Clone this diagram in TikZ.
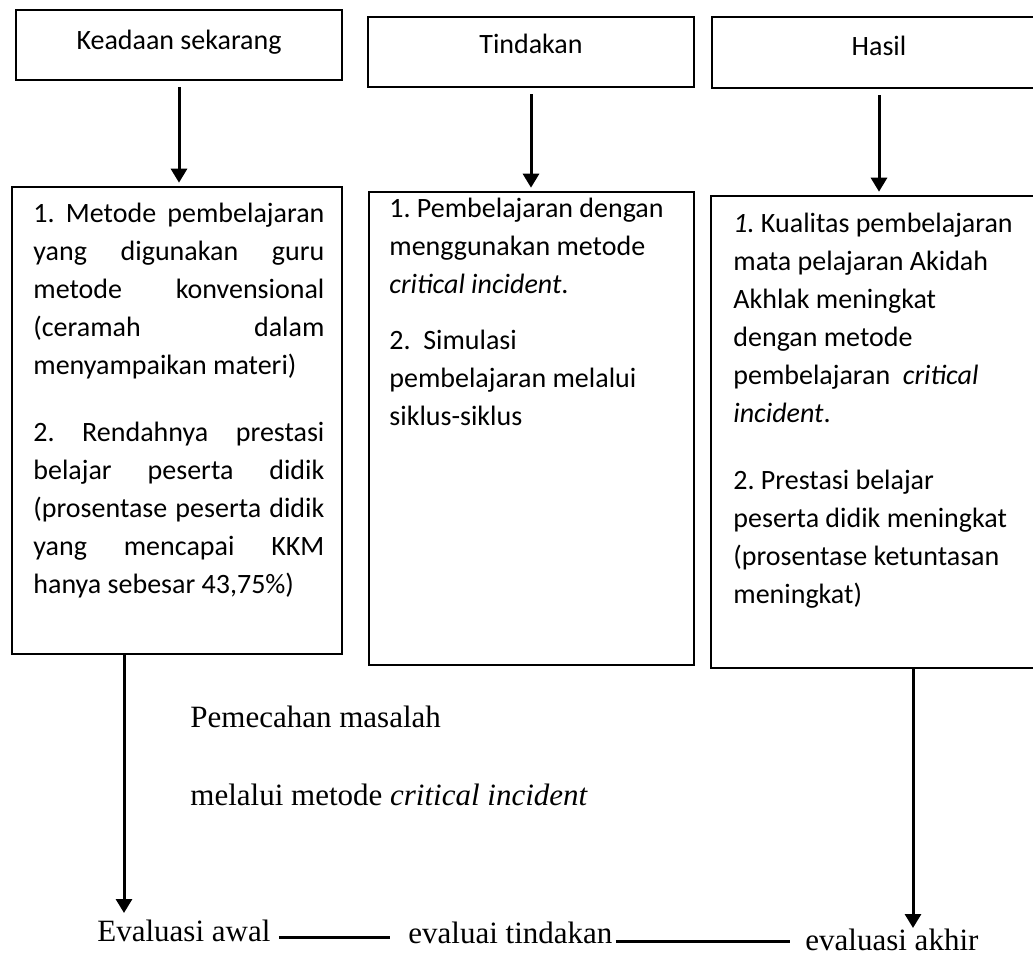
\documentclass[tikz,border=0pt]{standalone}
\usepackage{fontspec}
\setmainfont{Carlito}
\newfontfamily\serifteks{Liberation Serif}
\usetikzlibrary{arrows.meta,fit,calc}
\tolerance=10000
\hbadness=10000
\hyphenpenalty=10000
\frenchspacing

\begin{document}
\begin{tikzpicture}[x=0.5pt,y=-0.5pt,
  kotak/.style={draw, line width=1.3pt, inner sep=0pt},
  judul/.style={anchor=base, inner sep=0pt, font=\fontsize{14}{17}\selectfont},
  isi/.style={anchor=base west, inner sep=0pt, font=\fontsize{14}{19}\selectfont, align=flush left, text width=150pt},
  teks/.style={anchor=base west, inner sep=0pt, font=\serifteks\fontsize{15.5}{18}\selectfont},
  panah/.style={-{Triangle[length=7pt,width=8pt]}, line width=1.5pt},
  garis/.style={line width=1.5pt}]

  % Ukuran gambar (dalam piksel)
  \useasboundingbox (0,0) rectangle (1033,956);

  % Kotak judul
  \node[kotak, fit={(16,10) (342,80)}] (keadaan) {};
  \node[kotak, fit={(368,17) (694,87)}] (tindakan) {};
  \node[kotak, fit={(712,17) (1046,88)}] (hasil) {};
  \node[judul] (keadaanJudul) at ([yshift=-2.5pt]keadaan.center) {Keadaan sekarang};
  \node[judul] (tindakanJudul) at ([yshift=-1pt]tindakan.center) {Tindakan};
  \node[judul] (hasilJudul) at ([yshift=-1.5pt]hasil.center) {Hasil};

  % Kotak isi
  \node[kotak, fit={(12,187) (342,654)}] (keadaanIsi) {};
  \node[kotak, fit={(369,192) (694,665)}] (tindakanIsi) {};
  \node[kotak, fit={(711,196) (1046,668)}] (hasilIsi) {};

  % Teks dalam kotak isi
  \node[isi, align=justify, text width=145.5pt] (keadaanTeks) at (33,223) {%
    1. Metode pembelajaran\linebreak
    yang digunakan guru\linebreak
    metode konvensional\linebreak
    (ceramah dalam\linebreak
    menyampaikan materi)\par\vspace*{14.5pt}
    2. Rendahnya prestasi\linebreak
    belajar peserta didik\linebreak
    (prosentase peserta didik\linebreak
    yang mencapai KKM\linebreak
    hanya sebesar 43,75\%)};
  \node[isi] (tindakanTeks) at (389,218) {%
    1. Pembelajaran dengan\\
    menggunakan metode\\
    \textit{critical incident}.\par\vspace*{9pt}
    2.\ \ Simulasi\\
    pembelajaran melalui\\
    siklus-siklus};
  \node[isi] (hasilTeks) at (733,233) {%
    \textit{1.} Kualitas pembelajaran\\
    mata pelajaran Akidah\\
    Akhlak meningkat\\
    dengan metode\\
    pembelajaran\ \ \textit{critical}\\
    \textit{incident}.\par\vspace*{14.5pt}
    2. Prestasi belajar\\
    peserta didik meningkat\\
    (prosentase ketuntasan\\
    meningkat)};

  % Panah dari kotak judul ke kotak isi
  \foreach \atas/\bawah in {keadaan/keadaanIsi, tindakan/tindakanIsi, hasil/hasilIsi}
    \draw[panah, shorten <=3pt, shorten >=1.5pt] (\atas.south) -- (\atas.south |- \bawah.north);

  % Pemecahan masalah
  \node[teks] (pemecahan) at (190,727) {Pemecahan masalah};
  \node[teks] (melalui) at (190,805) {melalui metode \textit{critical incident}};

  % Evaluasi
  \node[teks] (evalAwal) at (97,941) {Evaluasi awal};
  \node[teks] (evalTindakan) at (408,943) {evaluai tindakan};
  \node[teks] (evalAkhir) at (805,950) {evaluasi akhir};
  \coordinate (awalTip) at (124,913);
  \coordinate (akhirTip) at (913,928);

  \draw[panah] (keadaanIsi.south -| awalTip) -- (awalTip);
  \draw[panah] (hasilIsi.south -| akhirTip) -- (akhirTip);

  \draw[garis, shorten <=4pt, shorten >=9pt] ([yshift=2pt]evalAwal.base east) -- ([yshift=2pt]evalAwal.base east -| evalTindakan.west);
  \draw[garis, shorten <=1.5pt, shorten >=7.5pt] ([yshift=1pt]evalTindakan.base east) -- ([yshift=1pt]evalTindakan.base east -| evalAkhir.west);
\end{tikzpicture}
\end{document}
